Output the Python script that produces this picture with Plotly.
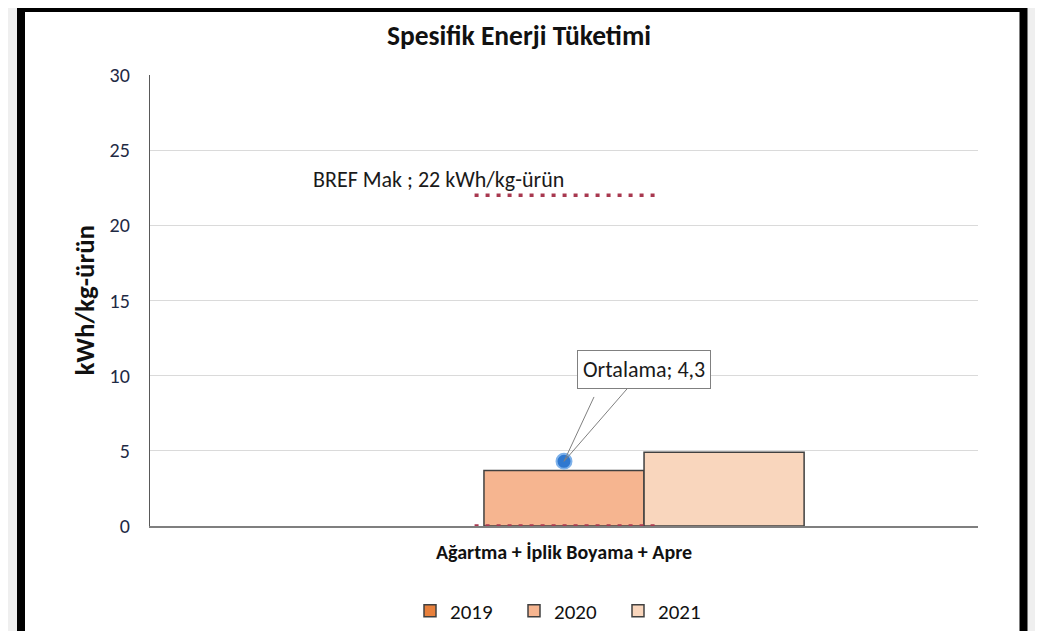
import plotly.graph_objects as go

# ---- data ----
CATEGORY = "Ağartma + İplik Boyama + Apre"
YEARS = ["2019", "2020", "2021"]
VALUES = [None, 3.7, 4.9]          # 2019 has no value
BAR_COLORS = ["#e8803c", "#f6b590", "#f9d6bd"]
BREF_MAX = 22
BREF_MIN = 0
BREF_LABEL = "BREF Mak ; 22 kWh/kg-ürün"
Y_TICKS = [0, 5, 10, 15, 20, 25, 30]

present = [v for v in VALUES if v is not None]
AVERAGE = round(sum(present) / len(present), 1)

# style constants
FONT = "Carlito, 'Liberation Sans Narrow', 'Open Sans', sans-serif"
BREF_SPAN = [-0.108, 0.11]   # horizontal extent of the BREF marker lines (axis units)
OFF = 8                      # page body margin
W, H = 1043 - OFF, 631 - OFF
L, R, T, B = 150 - OFF, 1043 - 978, 75 - OFF, 631 - 526
PW, PH = W - L - R, H - T - B

def px_x(p):   # page pixel -> paper x
    return (p - OFF - L) / PW

def px_y(p):   # page pixel -> paper y
    return (H - B - (p - OFF)) / PH

def cx(p):     # page pixel -> container x
    return (p - OFF) / W

def cy(p):     # page pixel -> container y
    return 1 - (p - OFF) / H

fig = go.Figure()

for yr, v, c in zip(YEARS, VALUES, BAR_COLORS):
    fig.add_trace(go.Bar(
        x=[0], y=[v], name=yr,
        marker=dict(color=c, line=dict(color="#404040", width=1.5)),
        hoverinfo="skip",
    ))

for val in (BREF_MAX, BREF_MIN):
    fig.add_trace(go.Scatter(
        x=BREF_SPAN, y=[val, val], mode="lines",
        line=dict(color="#a8384f", width=3.5, dash="4px,7px"),
        showlegend=False, hoverinfo="skip",
    ))

fig.add_trace(go.Scatter(
    x=[0], y=[AVERAGE], mode="markers",
    marker=dict(color="#2f78d0", size=15, line=dict(color="#7fb2ea", width=2)),
    showlegend=False, hoverinfo="skip",
))

avg_text = "Ortalama; " + str(AVERAGE).replace(".", ",")

fig.update_layout(
    width=W, height=H,
    margin=dict(l=L, r=R, t=T, b=B, autoexpand=False),
    paper_bgcolor="#efefef",
    plot_bgcolor="rgba(0,0,0,0)",
    barmode="group", bargap=0.42, bargroupgap=0,
    font=dict(family=FONT, color="#1a1a1a", size=20),
    title=dict(text="<b>Spesifik Enerji Tüketimi</b>", x=cx(519), xref="container",
               xanchor="center", y=cy(35), yanchor="middle", yref="container",
               font=dict(size=27.5, color="#111111", family=FONT)),
    xaxis=dict(range=[-0.5, 0.5], tickvals=[0], ticktext=["<b>" + CATEGORY + "</b>"],
               tickfont=dict(size=20, color="#111111"), ticks="",
               showgrid=False, zeroline=False, showline=True,
               linecolor="#7f7f7f", linewidth=2, ticklabelstandoff=7),
    yaxis=dict(range=[0, 30], tickvals=Y_TICKS, showgrid=True, gridcolor="#dadada",
               gridwidth=1.3, zeroline=False, showline=True, linecolor="#595959",
               linewidth=1.2, ticks="", tickfont=dict(size=20, color="#1f2a44"),
               ticklabelstandoff=15),
    legend=dict(orientation="h", x=cx(566), xanchor="center", xref="container",
                y=cy(611), yanchor="middle", yref="container",
                font=dict(size=21, color="#111111"), itemwidth=30,
                bgcolor="rgba(0,0,0,0)", traceorder="normal", entrywidth=59),
    showlegend=True,
)

# white panel with black frame
fig.add_shape(type="rect", xref="paper", yref="paper",
              x0=px_x(21), x1=px_x(1023.5), y0=px_y(640), y1=px_y(8),
              line=dict(color="#000000", width=8), fillcolor="#ffffff", layer="below")

# y axis title
fig.add_annotation(xref="paper", yref="paper", x=px_x(65), y=px_y(300),
                   text="<b>kWh/kg-ürün</b>", textangle=-90, showarrow=False,
                   font=dict(size=27, color="#111111"))

# BREF label
fig.add_annotation(x=0, y=BREF_MAX, xref="x", yref="y", text=BREF_LABEL,
                   showarrow=False, xanchor="right", yanchor="bottom", yshift=0,
                   xshift=2, font=dict(size=22, color="#1a1a1a"))

# average callout
fig.add_annotation(x=0, y=AVERAGE, xref="x", yref="y", text=" ", showarrow=True,
                   arrowhead=0, arrowwidth=1, arrowcolor="#808080",
                   ax=34, ay=-73)
fig.add_annotation(x=0, y=AVERAGE, xref="x", yref="y", text=avg_text, showarrow=True,
                   arrowhead=0, arrowwidth=1, arrowcolor="#808080",
                   ax=80, ay=-92, bgcolor="#ffffff", bordercolor="#808080",
                   borderwidth=1, borderpad=5, font=dict(size=22, color="#1a1a1a"))

fig.write_html("out.html")
